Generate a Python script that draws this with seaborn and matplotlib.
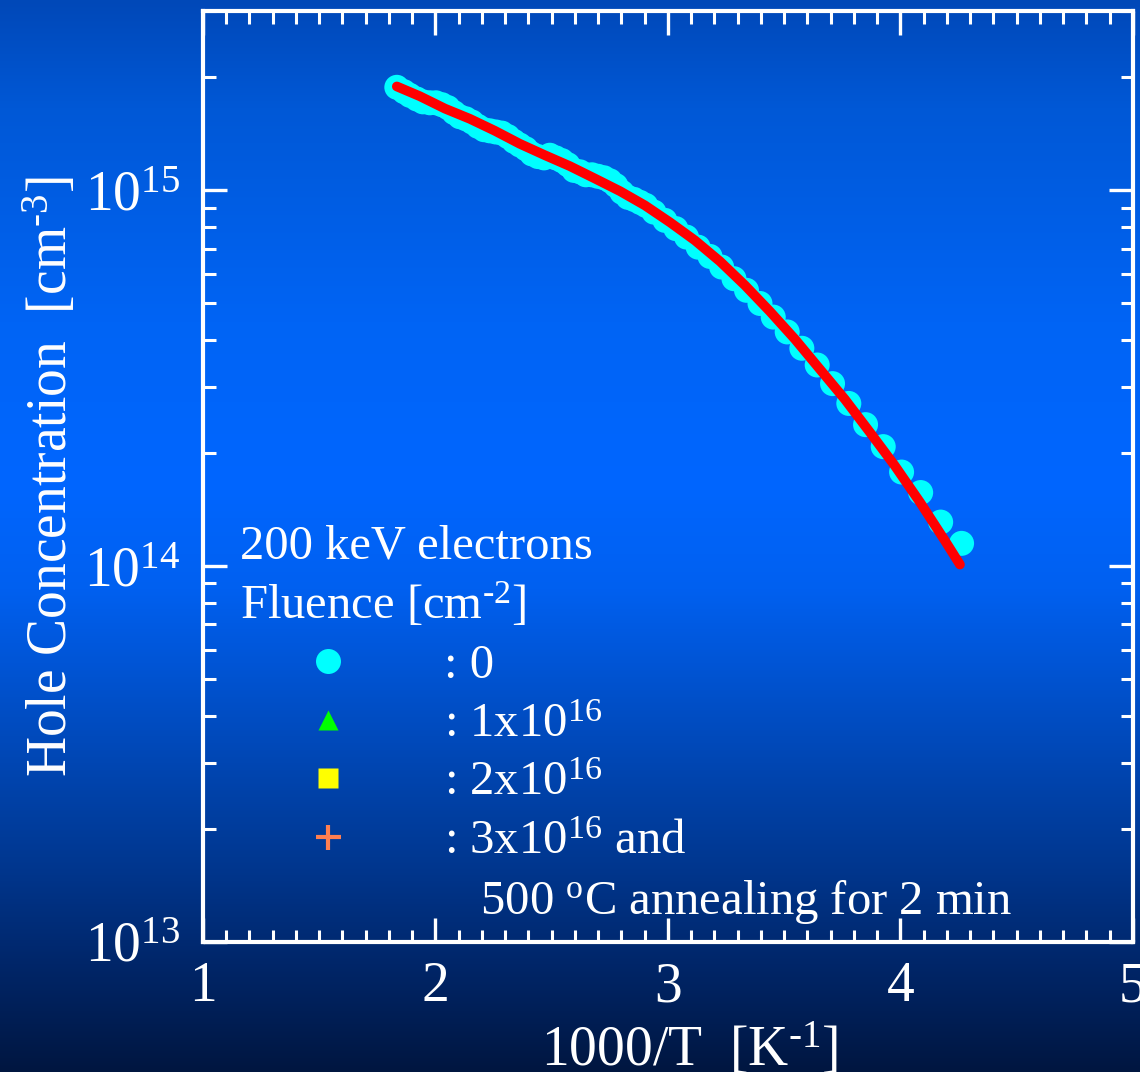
import numpy as np
import pandas as pd
import matplotlib
matplotlib.use("Agg")
import matplotlib.pyplot as plt
import seaborn as sns
from matplotlib.ticker import MultipleLocator, LogLocator, FixedLocator, NullFormatter
from matplotlib.lines import Line2D

# Measured hole concentration vs inverse temperature (unirradiated sample)
inv_temp = [
    1.834, 1.865, 1.890, 1.920, 1.946, 1.976, 2.002, 2.028, 2.054, 2.080,
    2.105, 2.131, 2.157, 2.183, 2.209, 2.234, 2.260, 2.286, 2.312, 2.338,
    2.363, 2.389, 2.415, 2.441, 2.467, 2.492, 2.518, 2.544, 2.570, 2.596,
    2.622, 2.647, 2.673, 2.699, 2.725, 2.751, 2.776, 2.802, 2.828, 2.854,
    2.880, 2.905, 2.940, 2.987, 3.034, 3.080, 3.130, 3.181, 3.231, 3.284,
    3.338, 3.396, 3.453, 3.513, 3.576, 3.642, 3.708, 3.778, 3.850, 3.926,
    4.005, 4.087, 4.173, 4.263,
]
hole_conc = [
    1.88e15, 1.83e15, 1.79e15, 1.75e15, 1.72e15, 1.71e15, 1.71e15, 1.69e15, 1.66e15, 1.61e15,
    1.57e15, 1.55e15, 1.52e15, 1.48e15, 1.45e15, 1.44e15, 1.43e15, 1.42e15, 1.39e15, 1.35e15,
    1.32e15, 1.29e15, 1.25e15, 1.23e15, 1.22e15, 1.24e15, 1.22e15, 1.20e15, 1.17e15, 1.13e15,
    1.12e15, 1.10e15, 1.10e15, 1.09e15, 1.08e15, 1.06e15, 1.03e15, 9.88e14, 9.58e14, 9.46e14,
    9.29e14, 9.12e14, 8.75e14, 8.32e14, 7.91e14, 7.51e14, 7.06e14, 6.67e14, 6.25e14, 5.82e14,
    5.42e14, 5.00e14, 4.60e14, 4.20e14, 3.80e14, 3.43e14, 3.06e14, 2.71e14, 2.38e14, 2.08e14,
    1.78e14, 1.57e14, 1.31e14, 1.15e14,
]

# Fitted curve
fit_inv_temp = [
    1.834, 1.933, 2.041, 2.148, 2.256, 2.363, 2.471, 2.578, 2.686, 2.794,
    2.901, 3.009, 3.116, 3.224, 3.331, 3.439, 3.546, 3.654, 3.761, 3.869,
    3.976, 4.084, 4.191, 4.256,
]
fit_hole_conc = [
    1.89e15, 1.78e15, 1.65e15, 1.55e15, 1.44e15, 1.33e15, 1.24e15, 1.16e15, 1.075e15, 9.95e14,
    9.12e14, 8.22e14, 7.36e14, 6.47e14, 5.59e14, 4.76e14, 4.02e14, 3.34e14, 2.78e14, 2.27e14,
    1.85e14, 1.48e14, 1.17e14, 1.01e14,
]

x_ticks = [1, 2, 3, 4, 5]
x_tick_labels = ["1", "2", "3", "4", "5"]
legend_title = "200 keV electrons\nFluence [cm$^{\\text{-}2}$]"
legend_labels = [": 0", ": 1x10$^{16}$", ": 2x10$^{16}$", ": 3x10$^{16}$ and",
                 "   500 $^{\\mathrm{o}}$C annealing for 2 min"]

sns.set_theme(style="ticks")
plt.rcParams["font.family"] = ["Liberation Serif", "DejaVu Serif"]
plt.rcParams["mathtext.fontset"] = "custom"
plt.rcParams["mathtext.rm"] = "Liberation Serif"
plt.rcParams["mathtext.it"] = "Liberation Serif:italic"
plt.rcParams["mathtext.bf"] = "Liberation Serif:bold"

fig = plt.figure(figsize=(11.4, 10.72), dpi=100)

# Vertical blue gradient backdrop
bg = fig.add_axes([0, 0, 1, 1], zorder=0)
stops = np.array([0.0, 0.1, 0.3, 0.45, 0.55, 0.65, 0.8, 0.9, 1.0])
reds = np.zeros_like(stops)
greens = np.array([72, 88, 100, 102, 96, 80, 56, 38, 22]) / 255
blues = np.array([184, 214, 245, 255, 240, 202, 146, 105, 64]) / 255
t = np.linspace(0, 1, 600)
grad = np.stack([np.interp(t, stops, reds), np.interp(t, stops, greens),
                 np.interp(t, stops, blues)], axis=-1)[:, None, :]
bg.imshow(grad, aspect="auto", extent=[0, 1, 0, 1], origin="upper")
bg.set_axis_off()

ax = fig.add_axes([0.178, 0.1213, 0.8158, 0.8684], zorder=1)
ax.set_facecolor("none")

meas = pd.DataFrame({"inv_temp": inv_temp, "hole": hole_conc})
fit = pd.DataFrame({"inv_temp": fit_inv_temp, "hole": fit_hole_conc})

sns.scatterplot(data=meas, x="inv_temp", y="hole", s=324, color="#00FFFF",
                edgecolor="none", linewidth=0, ax=ax, zorder=2, legend=False)
sns.lineplot(data=fit, x="inv_temp", y="hole", sort=False, estimator=None,
             color="#FF0000", lw=7, ax=ax, zorder=3, legend=False,
             solid_capstyle="round", solid_joinstyle="round")

ax.set_yscale("log")
ax.set_xlim(1, 5)
ax.set_ylim(1e13, 3e15)
ax.xaxis.set_major_locator(FixedLocator(x_ticks))
ax.set_xticklabels(x_tick_labels)
ax.xaxis.set_minor_locator(MultipleLocator(0.1))
ax.yaxis.set_major_locator(LogLocator(base=10, numticks=10))
ax.yaxis.set_minor_locator(LogLocator(base=10, subs=np.arange(2, 10), numticks=20))
ax.yaxis.set_minor_formatter(NullFormatter())

for sp in ax.spines.values():
    sp.set_color("white")
    sp.set_linewidth(3)

ax.tick_params(which="both", direction="in", top=True, right=True,
               colors="white", labelcolor="white")
ax.tick_params(which="major", length=17, width=2.4, labelsize=40)
ax.tick_params(which="minor", length=9, width=2.2)
ax.tick_params(axis="x", which="major", pad=14)
ax.tick_params(axis="y", which="major", pad=16)

ax.set_xlabel("1000/T  [K$^{\\text{-}1}$]", fontsize=40, color="white", labelpad=2)
ax.set_ylabel("Hole Concentration  [cm$^{\\text{-}3}$]", fontsize=40, color="white",
              labelpad=4)
ax.xaxis.set_label_coords(0.523, -0.085)

handles = [
    Line2D([], [], ls="none", marker="o", markersize=18, color="#00FFFF", mec="none"),
    Line2D([], [], ls="none", marker="^", markersize=15, color="#00FF00", mec="none"),
    Line2D([], [], ls="none", marker="s", markersize=14, color="#FFFF00", mec="none"),
    Line2D([], [], ls="none", marker="+", markersize=18, mew=3, color="#FF7F50"),
    Line2D([], [], ls="none"),
]
leg = ax.legend(handles, legend_labels, title=legend_title, loc="upper left",
                bbox_to_anchor=(0.04, 0.448), frameon=False, fontsize=35,
                title_fontsize=35, handlelength=3.6, handletextpad=0.6,
                labelspacing=0.3, borderpad=0, borderaxespad=0,
                alignment="left", labelcolor="white")
leg.get_title().set_color("white")
leg.get_title().set_linespacing(1.3)

fig.savefig("out.png", dpi=100)
